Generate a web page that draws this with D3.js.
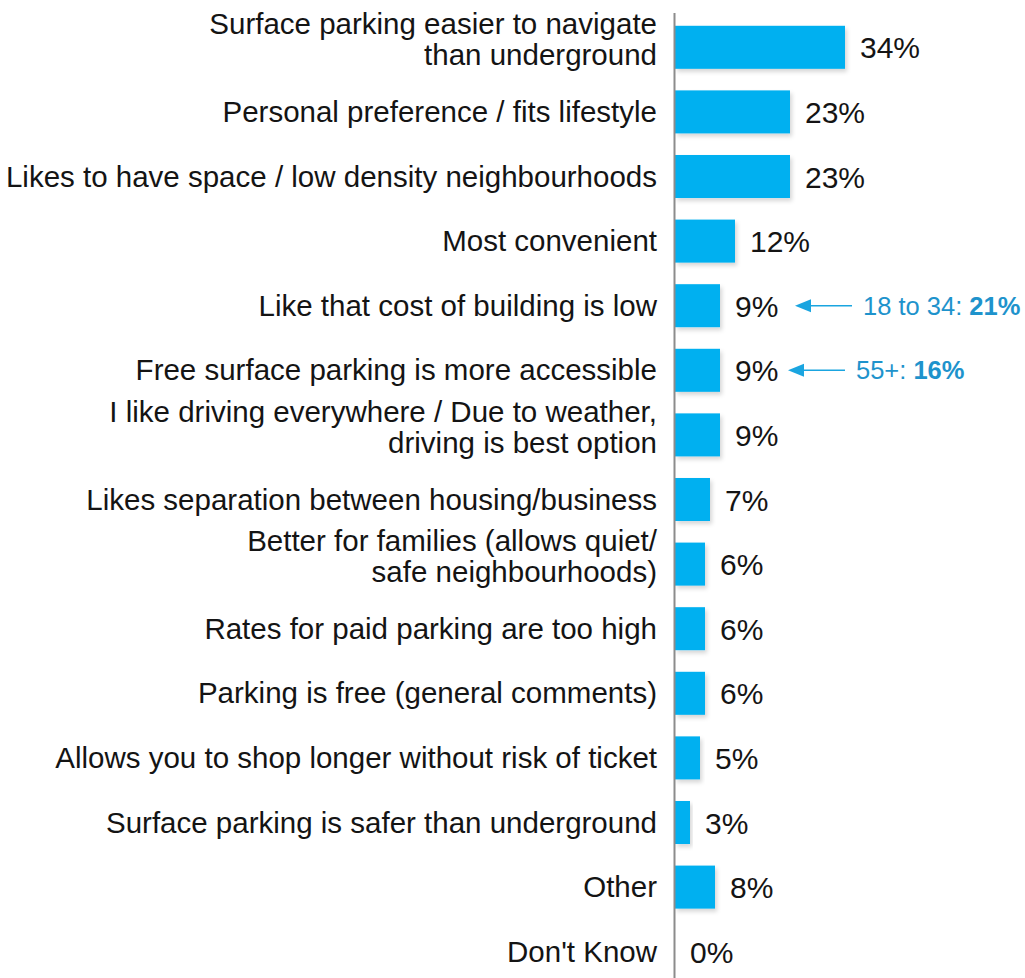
<!DOCTYPE html>
<html>
<head>
<meta charset="utf-8">
<script src="https://cdn.jsdelivr.net/npm/d3@7"></script>
<style>
  body { margin: 0; background: #fff; }
  text { font-family: "Liberation Sans", Arial, sans-serif; }
</style>
</head>
<body>
<div class="chart"></div>
<script>
var svgWidth = 1025;
var svgHeight = 978;

// reasons, top to bottom
var categories = [
  "Surface parking easier to navigate\nthan underground",
  "Personal preference / fits lifestyle",
  "Likes to have space / low density neighbourhoods",
  "Most convenient",
  "Like that cost of building is low",
  "Free surface parking is more accessible",
  "I like driving everywhere / Due to weather,\ndriving is best option",
  "Likes separation between housing/business",
  "Better for families (allows quiet/\nsafe neighbourhoods)",
  "Rates for paid parking are too high",
  "Parking is free (general comments)",
  "Allows you to shop longer without risk of ticket",
  "Surface parking is safer than underground",
  "Other",
  "Don't Know"
];
var values = [34, 23, 23, 12, 9, 9, 9, 7, 6, 6, 6, 5, 3, 8, 0];

// call-outs next to two of the bars
var noteRows = [4, 5];
var noteLabels = ["18 to 34: ", "55+: "];
var noteValues = [21, 16];

var barColor = "#00b0f0";
var arrowColor = "#1aa5e0";
var noteColor = "#1e93cc";

var svg = d3.select(".chart")
  .append("svg")
  .attr("width", svgWidth)
  .attr("height", svgHeight);

var defs = svg.append("defs");
var shadow = defs.append("filter").attr("id", "shadow")
  .attr("x", "-10%").attr("y", "-10%").attr("width", "130%").attr("height", "140%");
shadow.append("feDropShadow")
  .attr("dx", 2).attr("dy", 3).attr("stdDeviation", 2)
  .attr("flood-color", "#000").attr("flood-opacity", 0.16);

var rows = categories.map(function(c, i) { return { label: c, value: values[i], idx: i }; });

var xScale = d3.scaleLinear().domain([0, 40]).range([675, 875]);
var yScale = d3.scaleBand()
  .domain(d3.range(categories.length))
  .range([15, 15 + 64.6 * categories.length])
  .paddingInner(0.334)
  .paddingOuter(0.167);

function mid(i) { return yScale(i) + yScale.bandwidth() / 2; }

// bars
svg.selectAll("rect.bar")
  .data(rows)
  .enter().append("rect")
    .attr("class", "bar")
    .attr("x", xScale(0))
    .attr("y", function(d) { return yScale(d.idx); })
    .attr("width", function(d) { return xScale(d.value) - xScale(0); })
    .attr("height", yScale.bandwidth())
    .attr("fill", barColor)
    .attr("filter", "url(#shadow)");

// vertical axis line
svg.append("line")
  .attr("x1", xScale(0) - 0.5).attr("x2", xScale(0) - 0.5)
  .attr("y1", 13).attr("y2", svgHeight)
  .attr("stroke", "#8c8c8c")
  .attr("stroke-width", 2);

// category labels
var catText = svg.selectAll("text.cat")
  .data(rows)
  .enter().append("text")
    .attr("class", "cat")
    .attr("x", 657)
    .attr("y", function(d) { return mid(d.idx); })
    .attr("text-anchor", "end")
    .attr("font-size", 29.5)
    .attr("fill", "#141414");

catText.each(function(d) {
  var lines = d.label.split("\n");
  var t = d3.select(this);
  if (lines.length === 1) {
    t.append("tspan").attr("x", 657).attr("dy", 10).text(lines[0]);
  } else {
    t.append("tspan").attr("x", 657).attr("dy", -13).text(lines[0]);
    t.append("tspan").attr("x", 657).attr("dy", 31).text(lines[1]);
  }
});

// value labels
svg.selectAll("text.val")
  .data(rows)
  .enter().append("text")
    .attr("class", "val")
    .attr("x", function(d) { return xScale(d.value) + 15; })
    .attr("y", function(d) { return mid(d.idx) + 11; })
    .attr("font-size", 30)
    .attr("fill", "#141414")
    .text(function(d) { return d.value + "%"; });

// call-outs
noteRows.forEach(function(r, i) {
  var cy = mid(r);
  var tip = xScale(values[r]) + 75 - i * 7;
  svg.append("line")
    .attr("x1", tip + 14).attr("x2", tip + 57)
    .attr("y1", cy).attr("y2", cy)
    .attr("stroke", arrowColor).attr("stroke-width", 1.6);
  svg.append("path")
    .attr("d", "M" + tip + "," + cy + " L" + (tip + 16) + "," + (cy - 6.5) +
               " L" + (tip + 16) + "," + (cy + 6.5) + " Z")
    .attr("fill", arrowColor);
  var t = svg.append("text")
    .attr("x", tip + 68)
    .attr("y", cy + 9)
    .attr("font-size", 25.5)
    .attr("fill", noteColor);
  t.append("tspan").text(noteLabels[i]);
  t.append("tspan").attr("font-weight", "bold").text(noteValues[i] + "%");
});
</script>
</body>
</html>
